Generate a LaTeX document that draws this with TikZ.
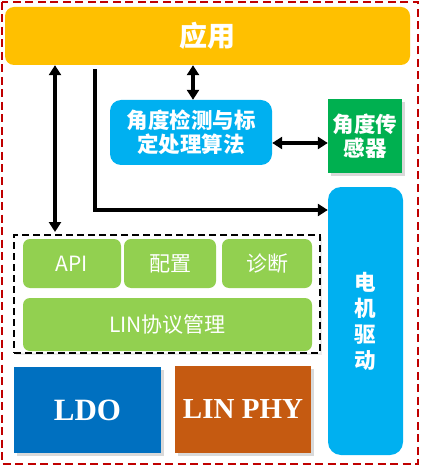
\documentclass[tikz,border=0pt]{standalone}
\usepackage{fontspec}
\setmainfont{Liberation Serif}
\newfontfamily\cjk{Noto Sans CJK SC}
\usetikzlibrary{arrows.meta, shadows}
\definecolor{appgold}{HTML}{FFC000}
\definecolor{skyblue}{HTML}{00B0F0}
\definecolor{sensgreen}{HTML}{00B050}
\definecolor{leafgreen}{HTML}{92D050}
\definecolor{ldoblue}{HTML}{0070C0}
\definecolor{phyrust}{HTML}{C55A11}
\definecolor{frame}{HTML}{C00000}

\begin{document}
\begin{tikzpicture}[x=1pt, y=-1pt, >={Triangle[length=10pt,width=12pt]},
  bx/.style={fill=#1, text=white, inner sep=0pt, align=center,
             font=\cjk\bfseries\fontsize{21.5}{24}\selectfont},
  sub/.style={fill=leafgreen, rounded corners=7pt, text=white, inner sep=0pt,
              font=\cjk\fontsize{21}{24}\selectfont},
  hw/.style={fill=#1, text=white, inner sep=0pt, font=\bfseries\fontsize{31}{34}\selectfont,
             drop shadow={shadow xshift=3pt, shadow yshift=-3pt, opacity=0.3}},
  lnk/.style={line width=3.2pt}]
  \useasboundingbox (0,0) rectangle (421,470);
  % --- outer frame ---
  \draw[frame, line width=2.8pt, dash pattern=on 8pt off 4.5pt] (2,2) rectangle (418,464);
  % --- top ---
  \node[bx=appgold, rounded corners=9pt, minimum width=405pt, minimum height=58pt,
        font=\cjk\bfseries\fontsize{28}{30}\selectfont] (app) at (207.5,36) {应用};
  \node[bx=skyblue, rounded corners=11pt, minimum width=162pt, minimum height=65pt] (algo)
        at (191,132.5) {角度检测与标\\定处理算法};
  \node[bx=sensgreen, minimum width=74pt, minimum height=74pt,
        drop shadow={shadow xshift=3pt, shadow yshift=-3pt, opacity=0.3}] (sensor)
        at (365,136) {角度传\\感器};
  \node[bx=skyblue, rounded corners=13pt, minimum width=75pt, minimum height=268pt,
        font=\cjk\bfseries\fontsize{21.5}{26}\selectfont] (motor) at (365.5,321) {电\\机\\驱\\动};
  % --- LIN stack ---
  \node[draw=black, fill=white, line width=2pt, dash pattern=on 7pt off 4pt,
        minimum width=306pt, minimum height=118pt, inner sep=0pt,
        drop shadow={shadow xshift=2pt, shadow yshift=-2pt, opacity=0.15}] (stack) at (167,294) {};
  \node[sub, minimum width=98pt, minimum height=49pt] (api) at (72,263.5) {API};
  \node[sub, minimum width=92pt, minimum height=49pt] (cfg) at (170,263.5) {配置};
  \node[sub, minimum width=90pt, minimum height=49pt] (diag) at (267,263.5) {诊断};
  \node[sub, minimum width=289pt, minimum height=53pt] (lin) at (167.5,324.5) {LIN协议管理};
  % --- hardware ---
  \node[hw=ldoblue, minimum width=147pt, minimum height=86pt] (ldo) at (87.5,410) {LDO};
  \node[hw=phyrust, minimum width=136pt, minimum height=87pt,
        font=\bfseries\fontsize{29}{32}\selectfont] (phy) at (243,409.5) {LIN PHY};
  % --- links ---
  \coordinate (apix) at (55,0);
  \coordinate (bend) at (95,210);
  \coordinate (algx) at (193,0);
  \coordinate (seny) at (0,143);
  \draw[lnk, <->] (app.south -| apix) -- ([yshift=2pt]stack.north -| apix);
  \draw[lnk, ->] ([yshift=-4pt]app.south -| bend) -- (bend) -- (bend -| motor.west);
  \draw[lnk, <->] (app.south -| algx) -- (algo.north -| algx);
  \draw[lnk, <->] (algo.east |- seny) -- (sensor.west |- seny);
\end{tikzpicture}
\end{document}
